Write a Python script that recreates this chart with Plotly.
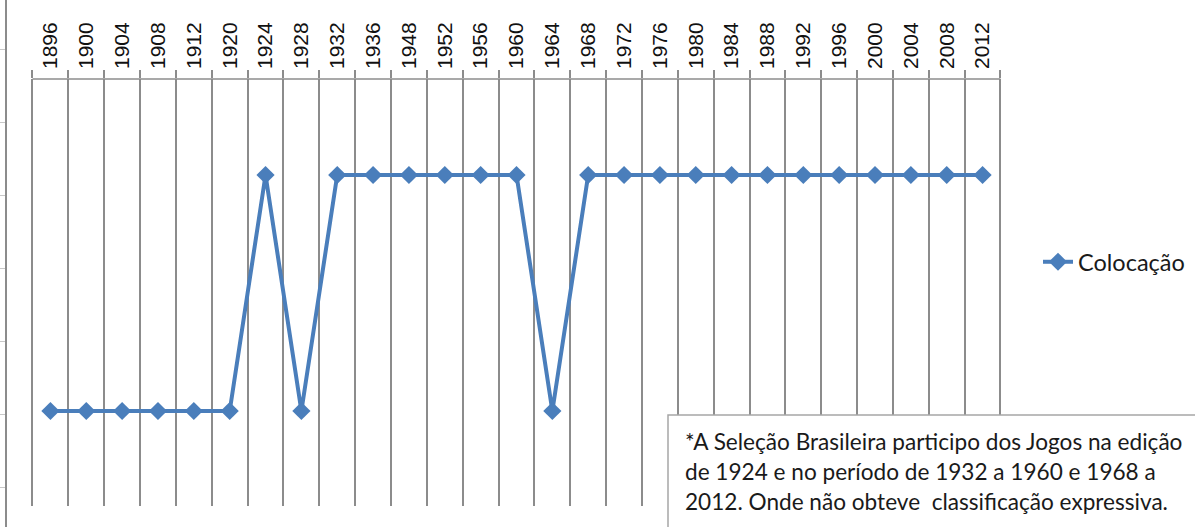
import plotly.graph_objects as go

W, H = 1195, 527

anos = ["1896", "1900", "1904", "1908", "1912", "1920", "1924", "1928", "1932",
        "1936", "1948", "1952", "1956", "1960", "1964", "1968", "1972", "1976",
        "1980", "1984", "1988", "1992", "1996", "2000", "2004", "2008", "2012"]
colocacao = [1, 1, 1, 1, 1, 1, 4.25, 1, 4.25,
             4.25, 4.25, 4.25, 4.25, 4.25, 1, 4.25, 4.25, 4.25,
             4.25, 4.25, 4.25, 4.25, 4.25, 4.25, 4.25, 4.25, 4.25]
nota = ["*A Seleção Brasileira participo dos Jogos na edição",
        "de 1924 e no período de 1932 a 1960 e 1968 a",
        "2012. Onde não obteve  classificação expressiva."]

GRID = "#8c8c8c"
BLUE = "#4a7ebb"

def px_x(p):
    return p / W

def px_y(p):
    return 1 - p / H

fig = go.Figure()
fig.add_trace(go.Scatter(
    x=anos, y=colocacao, mode="lines+markers", name="Colocação",
    line=dict(color=BLUE, width=4),
    marker=dict(symbol="diamond", size=14, color=BLUE),
    xaxis="x", yaxis="y"))
# decorative left axis (empty trace just to instantiate it)
fig.add_trace(go.Scatter(x=[], y=[], xaxis="x2", yaxis="y2", showlegend=False,
                         hoverinfo="skip"))

# main y scale: value 1 at px 411, 4.25 at px 175
s = (411 - 175) / 3.25
ytop = 1 + (411 - 79) / s
ybot = 1 - (506 - 411) / s

# x: category boundaries from px 32.5 to 1000.5; pad range slightly so edge gridlines draw
n = len(anos)
cw = (1000.5 - 32.5) / n
pad = 0.06
x0px = 32.5 - pad * cw
x1px = 1000.5 + pad * cw

fig.update_layout(
    width=W, height=H,
    margin=dict(l=0, r=0, t=0, b=0),
    paper_bgcolor="white", plot_bgcolor="rgba(0,0,0,0)",
    showlegend=True,
    legend=dict(x=px_x(1038), y=px_y(262), xanchor="left", yanchor="middle",
                font=dict(family="Lato", size=23.5, color="#1a1a1a"),
                bgcolor="rgba(0,0,0,0)", itemwidth=30),
    xaxis=dict(domain=[px_x(x0px), px_x(x1px)], type="category",
               side="top", anchor="y", tickson="boundaries",
               range=[-0.5 - pad, n - 0.5 + pad],
               showline=False,
               showgrid=True, gridcolor=GRID, gridwidth=1.5,
               ticks="outside", ticklen=8, tickcolor=GRID, tickwidth=1.5,
               tickangle=-90, ticklabelstandoff=9,
               tickfont=dict(family="Liberation Sans", size=21, color="#111"),
               zeroline=False, fixedrange=True),
    yaxis=dict(domain=[px_y(506), px_y(79)], anchor="x",
               range=[ybot, ytop], showgrid=False, showline=False,
               zeroline=False, showticklabels=False, ticks="", fixedrange=True),
    xaxis2=dict(domain=[0, 1], anchor="y2", visible=False, range=[0, 1]),
    yaxis2=dict(domain=[0, 1], anchor="free", position=px_x(6),
                range=[(487 - 527) / 73, 487 / 73], dtick=1, tick0=0,
                showline=True, linecolor=GRID, linewidth=1.5,
                ticks="outside", ticklen=5, tickcolor="#c8c8c8", tickwidth=1,
                showticklabels=False, showgrid=False, zeroline=False),
)

# top axis line spanning exactly the category boundaries
fig.add_shape(type="line", xref="x", yref="paper",
              x0=-0.5, x1=n - 0.5, y0=px_y(79), y1=px_y(79),
              line=dict(color=GRID, width=1.5), layer="below")

fig.add_shape(type="rect", xref="paper", yref="paper",
              x0=px_x(668), x1=px_x(1210), y0=px_y(540), y1=px_y(415),
              line=dict(color="#a6a6a6", width=1.5), fillcolor="white", layer="above")

for i, linha in enumerate(nota):
    fig.add_annotation(xref="paper", yref="paper", x=px_x(683), y=px_y(441 + 30 * i),
                       xanchor="left", yanchor="middle", showarrow=False,
                       text=linha, align="left",
                       font=dict(family="Lato", size=22.6, color="#1a1a1a"))

fig.write_html("out.html", config={"displayModeBar": False},
               post_script="document.body.style.margin='0';")
